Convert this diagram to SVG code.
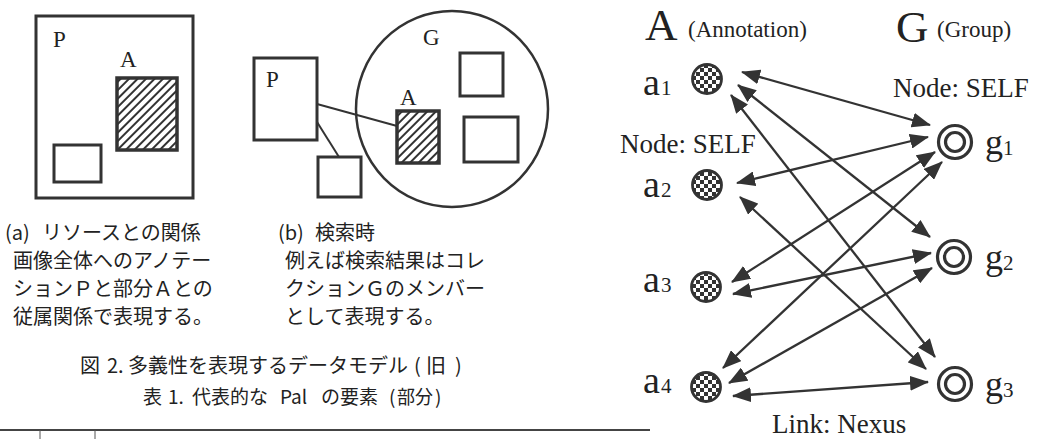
<svg xmlns="http://www.w3.org/2000/svg" width="1039" height="439" viewBox="0 0 1039 439">
<style>
.box{fill:#fff;stroke:#333;stroke-width:3}
.hbox{fill:url(#hatch);stroke:#333;stroke-width:3.5}
.thin{stroke:#333;stroke-width:2;fill:none}
.conn{stroke:#333;stroke-width:2.3;fill:none;marker-start:url(#ah);marker-end:url(#ah)}
.serif{font-family:"Liberation Serif","Times New Roman",serif;fill:#222}
.jp{font-family:"Noto Sans CJK JP",sans-serif;fill:#222;font-size:20px}
.anode{fill:url(#checker);stroke:#333;stroke-width:2.8}
.gring{fill:#fff;stroke:#333;stroke-width:3.2}
</style>
<defs>
<pattern id="hatch" width="6" height="6" patternUnits="userSpaceOnUse" patternTransform="rotate(45)">
<rect width="6" height="6" fill="#fff"/>
<line x1="3" y1="0" x2="3" y2="6" stroke="#333" stroke-width="2"/>
</pattern>
<pattern id="checker" width="8" height="8" patternUnits="userSpaceOnUse">
<rect width="8" height="8" fill="#fff"/>
<rect width="4" height="4" fill="#333"/>
<rect x="4" y="4" width="4" height="4" fill="#333"/>
</pattern>
<marker id="ah" viewBox="0 0 19 15" refX="18" refY="7.5" markerWidth="19" markerHeight="15" markerUnits="userSpaceOnUse" orient="auto-start-reverse">
<path d="M0,0 L19,7.5 L0,15 z" fill="#333"/>
</marker>
</defs>

<!-- (a) -->
<g id="fig-a">
<rect class="box" x="36" y="16" width="157" height="182"/>
<text class="serif" x="53" y="47" font-size="23">P</text>
<text class="serif" x="120" y="67" font-size="23">A</text>
<rect class="hbox" x="117" y="78" width="60" height="72"/>
<rect class="box" x="54" y="145" width="47" height="37"/>
</g>

<!-- (b) -->
<g id="fig-b">
<ellipse cx="452" cy="109" rx="96" ry="98" fill="none" stroke="#333" stroke-width="2.5"/>
<text class="serif" x="423" y="45" font-size="23">G</text>
<rect class="box" x="254" y="58" width="63" height="82"/>
<text class="serif" x="266" y="87" font-size="23">P</text>
<line class="thin" x1="317" y1="104" x2="397" y2="126"/>
<line class="thin" x1="317" y1="122" x2="339" y2="157"/>
<rect class="box" x="318" y="157" width="43" height="40"/>
<text class="serif" x="400" y="105" font-size="23">A</text>
<rect class="hbox" x="397" y="111" width="42" height="52"/>
<rect class="box" x="460" y="53" width="43" height="43"/>
<rect class="box" x="464" y="117" width="54" height="45"/>
</g>

<!-- captions -->
<g id="caption-a" class="jp">
<text x="5" y="240">(a)</text>
<text x="42" y="240">リソースとの関係</text>
<text x="13" y="268">画像全体へのアノテー</text>
<text x="13" y="296">ションＰと部分Ａとの</text>
<text x="13" y="324">従属関係で表現する。</text>
</g>
<g id="caption-b" class="jp">
<text x="278" y="240">(b)</text>
<text x="315" y="240">検索時</text>
<text x="285" y="268">例えば検索結果はコレ</text>
<text x="285" y="296">クションＧのメンバー</text>
<text x="285" y="324">として表現する。</text>
</g>
<g id="fig-caption" class="jp">
<text y="373"><tspan x="80">図</tspan><tspan x="107">2.</tspan><tspan x="128">多義性を表現するデータモデル</tspan><tspan x="414">(</tspan><tspan x="426">旧</tspan><tspan x="455">)</tspan></text>
<text y="404" font-size="19"><tspan x="143">表</tspan><tspan x="168">1.</tspan><tspan x="192">代表的な</tspan><tspan x="280">Pal</tspan><tspan x="321">の要素</tspan><tspan x="389">(</tspan><tspan x="397" textLength="36" lengthAdjust="spacingAndGlyphs">部分</tspan><tspan x="435">)</tspan></text>
</g>
<g id="table-rule">
<line x1="0" y1="430" x2="650" y2="430" stroke="#444" stroke-width="2"/>
<line x1="40" y1="430" x2="40" y2="439" stroke="#555" stroke-width="1"/>
<line x1="95" y1="430" x2="95" y2="439" stroke="#555" stroke-width="1"/>
</g>

<!-- right graph headers -->
<g id="headers" class="serif">
<text x="645" y="40" font-size="45">A</text>
<text x="688" y="37" font-size="23">(Annotation)</text>
<text x="896" y="42" font-size="45">G</text>
<text x="937" y="37" font-size="23">(Group)</text>
<text x="893" y="97" font-size="27">Node: SELF</text>
<text x="620" y="153" font-size="27">Node: SELF</text>
<text x="772" y="433" font-size="27">Link: Nexus</text>
</g>

<!-- connectors -->
<g id="connectors">
<line class="conn" x1="742" y1="72" x2="930" y2="125"/>
<line class="conn" x1="738" y1="85" x2="930" y2="237"/>
<line class="conn" x1="731" y1="95" x2="935" y2="357"/>
<line class="conn" x1="737" y1="183" x2="928" y2="137"/>
<line class="conn" x1="740" y1="197" x2="926" y2="369"/>
<line class="conn" x1="732" y1="282" x2="935" y2="152"/>
<line class="conn" x1="733" y1="294" x2="931" y2="253"/>
<line class="conn" x1="723" y1="368" x2="942" y2="162"/>
<line class="conn" x1="729" y1="383" x2="932" y2="268"/>
<line class="conn" x1="733" y1="396" x2="928" y2="382"/>
</g>

<!-- A nodes -->
<g id="a1"><circle class="anode" cx="707" cy="79" r="14.5"/><text class="serif" x="643" y="95" font-size="38">a</text><text class="serif" x="661" y="95" font-size="21">1</text></g>
<g id="a2"><circle class="anode" cx="707" cy="185" r="14.5"/><text class="serif" x="643" y="197" font-size="38">a</text><text class="serif" x="661" y="197" font-size="21">2</text></g>
<g id="a3"><circle class="anode" cx="706" cy="287" r="14.5"/><text class="serif" x="643" y="292" font-size="38">a</text><text class="serif" x="661" y="292" font-size="21">3</text></g>
<g id="a4"><circle class="anode" cx="706" cy="387" r="14.5"/><text class="serif" x="643" y="393" font-size="38">a</text><text class="serif" x="661" y="393" font-size="21">4</text></g>

<!-- G nodes -->
<g id="g1"><circle class="gring" cx="955" cy="142" r="16.5"/><circle class="gring" cx="955" cy="142" r="9.5"/><text class="serif" x="985" y="154" font-size="36">g</text><text class="serif" x="1003" y="155" font-size="21">1</text></g>
<g id="g2"><circle class="gring" cx="954" cy="257" r="16.5"/><circle class="gring" cx="954" cy="257" r="9.5"/><text class="serif" x="985" y="269" font-size="36">g</text><text class="serif" x="1003" y="270" font-size="21">2</text></g>
<g id="g3"><circle class="gring" cx="955" cy="384" r="16.5"/><circle class="gring" cx="955" cy="384" r="9.5"/><text class="serif" x="985" y="396" font-size="36">g</text><text class="serif" x="1003" y="397" font-size="21">3</text></g>
</svg>
